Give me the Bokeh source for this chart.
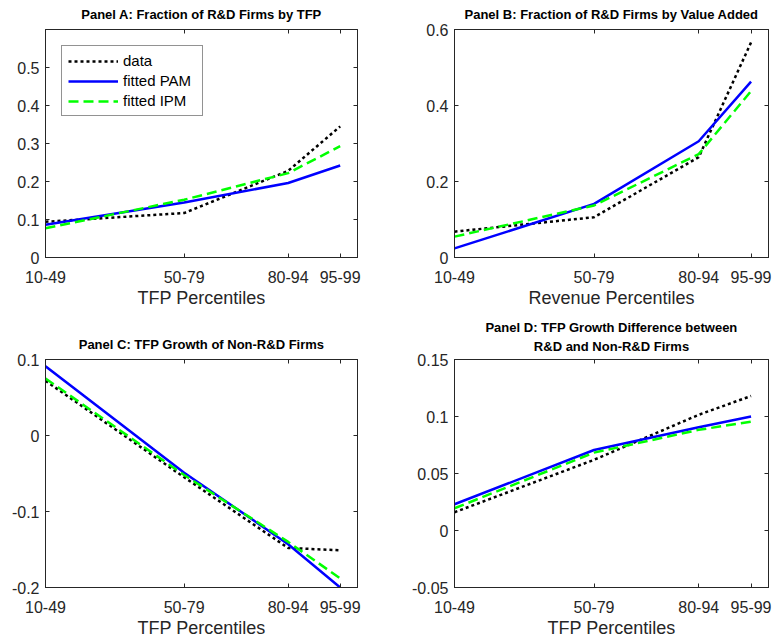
from bokeh.embed import file_html
from bokeh.layouts import column, row
from bokeh.models import (CustomJSTickFormatter, CustomLabelingPolicy, FixedTicker,
                          LinearAxis, Title)
from bokeh.plotting import figure
from bokeh.resources import INLINE

# percentile bins, plotted at their lower bound
pct_lower = [10, 50, 80, 95]
pct_labels = ["10-49", "50-79", "80-94", "95-99"]

# Panel A: fraction of R&D firms by TFP
a_data = [0.094, 0.117, 0.228, 0.345]
a_pam = [0.086, 0.145, 0.196, 0.242]
a_ipm = [0.077, 0.152, 0.222, 0.293]

# Panel B: fraction of R&D firms by value added
b_data = [0.068, 0.106, 0.264, 0.566]
b_pam = [0.024, 0.141, 0.306, 0.463]
b_ipm = [0.055, 0.137, 0.272, 0.438]

# Panel C: TFP growth of non-R&D firms
c_data = [0.072, -0.055, -0.148, -0.151]
c_pam = [0.091, -0.049, -0.143, -0.200]
c_ipm = [0.075, -0.052, -0.140, -0.188]

# Panel D: TFP growth difference R&D vs non-R&D
d_data = [0.016, 0.062, 0.1015, 0.118]
d_pam = [0.023, 0.0706, 0.0906, 0.100]
d_ipm = [0.0195, 0.0683, 0.0883, 0.0955]

FONT = "Liberation Sans"
GRAY = "#262626"

# drops every label of the mirrored (tick-only) axes
NO_LABELS = "const all = Array.from(indices); for (const i of all) indices.unset(i); return indices;"


def panel(titles, xlabel, series, y_range, yticks, size, borders, standoffs, legend=False):
    left, right, top, bottom = borders
    p = figure(width=size[0], height=size[1], x_range=(10, 100), y_range=y_range,
               output_backend="svg", toolbar_location=None, title=None,
               x_axis_label=xlabel,
               min_border_left=left, min_border_right=right,
               min_border_top=top, min_border_bottom=bottom)
    p.xgrid.visible = False
    p.ygrid.visible = False
    p.outline_line_color = GRAY
    p.background_fill_color = "white"
    p.border_fill_color = "white"

    top_ax = LinearAxis(ticker=FixedTicker(ticks=pct_lower))
    right_ax = LinearAxis(ticker=FixedTicker(ticks=yticks))
    p.add_layout(top_ax, "above")
    p.add_layout(right_ax, "right")

    for t, so in zip(reversed(titles), standoffs):
        p.add_layout(Title(text=t, align="center", text_font=FONT,
                           text_font_size="13px", text_font_style="bold",
                           text_color="black", standoff=so), "above")

    for ax in p.axis:
        ax.axis_line_color = GRAY
        ax.major_tick_line_color = GRAY
        ax.major_tick_in = 4
        ax.major_tick_out = 0
        ax.minor_tick_line_color = None
        ax.major_label_text_color = GRAY
        ax.major_label_text_font = FONT
        ax.major_label_text_font_size = "16px"
        ax.axis_label_text_font = FONT
        ax.axis_label_text_font_size = "18px"
        ax.axis_label_text_font_style = "normal"
        ax.axis_label_text_color = GRAY
    for ax in (top_ax, right_ax):
        ax.major_label_text_font_size = "1px"
        ax.major_label_standoff = 0
        ax.major_label_policy = CustomLabelingPolicy(code=NO_LABELS)

    bx = p.below[0]
    bx.ticker = FixedTicker(ticks=pct_lower)
    bx.major_label_overrides = dict(zip(pct_lower, pct_labels))
    bx.major_label_standoff = 13
    bx.axis_label_standoff = 2

    ly = p.left[0]
    ly.ticker = FixedTicker(ticks=yticks)
    ly.formatter = CustomJSTickFormatter(code="return String(Math.round(tick * 1000) / 1000);")
    ly.major_label_standoff = 6

    data, pam, ipm = series
    kw = dict(legend_label="data") if legend else {}
    p.line(pct_lower, data, line_color="black", line_width=2.5, line_dash="3 3", **kw)
    kw = dict(legend_label="fitted PAM") if legend else {}
    p.line(pct_lower, pam, line_color="#0000ff", line_width=2.5, **kw)
    kw = dict(legend_label="fitted IPM") if legend else {}
    p.line(pct_lower, ipm, line_color="#00ff00", line_width=2.5, line_dash="10 5", **kw)

    if legend:
        lg = p.legend[0]
        lg.location = "top_left"
        lg.margin = 16
        lg.padding = 6
        lg.spacing = 3
        lg.glyph_width = 50
        lg.glyph_height = 16
        lg.label_height = 16
        lg.label_width = 73
        lg.label_standoff = 5
        lg.label_text_font = FONT
        lg.label_text_font_size = "15px"
        lg.label_text_color = "black"
        lg.border_line_color = GRAY
        lg.background_fill_alpha = 1
    return p


pA = panel(["Panel A: Fraction of R&D Firms by TFP"], "TFP Percentiles",
           (a_data, a_pam, a_ipm), (0, 0.6), [0, 0.1, 0.2, 0.3, 0.4, 0.5],
           (389, 313), (45, 32, 28, 56), [8], legend=True)
pB = panel(["Panel B: Fraction of R&D Firms by Value Added"], "Revenue Percentiles",
           (b_data, b_pam, b_ipm), (0, 0.6), [0, 0.2, 0.4, 0.6],
           (387, 313), (65, 8, 28, 56), [8])
pC = panel(["Panel C: TFP Growth of Non-R&D Firms"], "TFP Percentiles",
           (c_data, c_pam, c_ipm), (-0.2, 0.1), [-0.2, -0.1, 0, 0.1],
           (389, 330), (45, 32, 46, 56), [7])
pD = panel(["Panel D: TFP Growth Difference between", "R&D and Non-R&D Firms"],
           "TFP Percentiles",
           (d_data, d_pam, d_ipm), (-0.05, 0.15), [-0.05, 0, 0.05, 0.1, 0.15],
           (387, 330), (65, 8, 46, 56), [3, 2])

layout = column(row(pA, pB), row(pC, pD))
open("out.html", "w").write(file_html(layout, INLINE))
